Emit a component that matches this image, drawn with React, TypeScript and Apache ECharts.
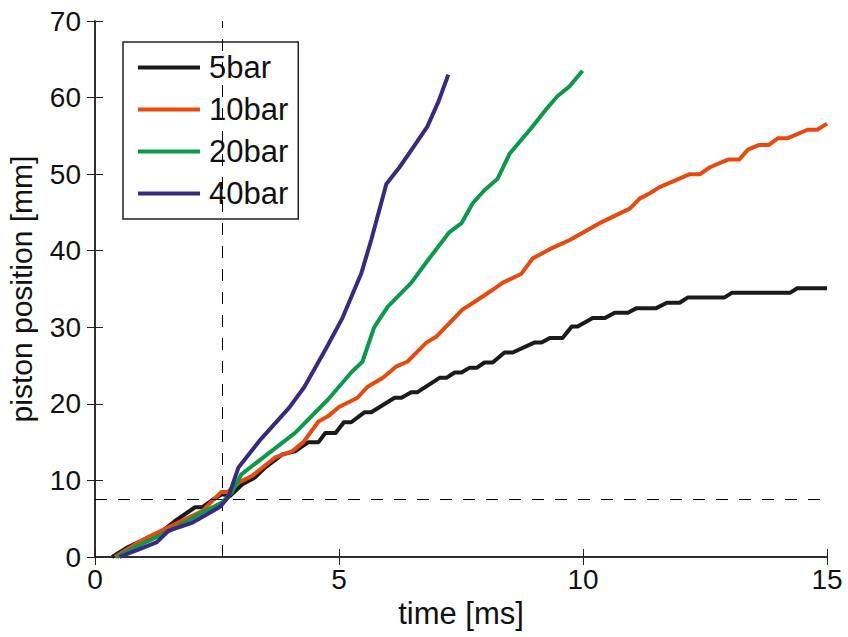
import React, { useEffect, useRef } from "react";
import * as echarts from "echarts";

const seriesNames = ["5bar", "10bar", "20bar", "40bar"];
const seriesColors = ["#1a1a1a", "#E84A0E", "#0B9A4A", "#3A2883"];

const t5 = [0.35, 0.68, 1.38, 1.64, 2.05, 2.2, 2.42, 2.6, 2.77, 3.02, 3.28, 3.49, 3.84, 4.1, 4.37, 4.58, 4.72, 4.93, 5.1, 5.25, 5.52, 5.66, 6.14, 6.28, 6.48, 6.6, 7.06, 7.2, 7.37, 7.51, 7.67, 7.82, 7.98, 8.15, 8.39, 8.56, 8.76, 9.0, 9.15, 9.32, 9.58, 9.77, 9.89, 10.2, 10.45, 10.65, 10.92, 11.1, 11.5, 11.72, 11.98, 12.15, 12.9, 13.05, 14.24, 14.39, 15.0];
const p5 = [0, 1.3, 3.4, 4.7, 6.5, 6.5, 7.5, 8.2, 8.0, 9.5, 10.4, 11.7, 13.4, 13.8, 15.0, 15.0, 16.2, 16.2, 17.6, 17.6, 18.9, 18.9, 20.8, 20.8, 21.5, 21.5, 23.4, 23.4, 24.1, 24.1, 24.7, 24.7, 25.4, 25.4, 26.7, 26.7, 27.3, 28.0, 28.0, 28.6, 28.6, 30.1, 30.1, 31.2, 31.2, 31.9, 31.9, 32.5, 32.5, 33.2, 33.2, 33.9, 33.9, 34.5, 34.5, 35.1, 35.1];

const t10 = [0.41, 0.76, 1.09, 1.64, 2.2, 2.4, 2.59, 2.73, 2.87, 3.22, 3.69, 4.04, 4.27, 4.58, 4.78, 5.0, 5.38, 5.58, 5.9, 6.18, 6.4, 6.79, 7.0, 7.53, 7.82, 8.15, 8.35, 8.74, 8.97, 9.32, 9.73, 10.34, 10.96, 11.16, 11.37, 11.57, 12.19, 12.4, 12.6, 12.97, 13.2, 13.38, 13.6, 13.8, 14.0, 14.2, 14.6, 14.8, 15.0];
const p10 = [0, 1.4, 2.6, 4.3, 6.0, 7.3, 8.5, 8.5, 9.5, 10.6, 13.0, 13.8, 15.0, 17.7, 18.4, 19.6, 20.8, 22.2, 23.4, 24.9, 25.5, 28.0, 28.8, 32.3, 33.5, 34.9, 35.8, 37.0, 39.0, 40.2, 41.4, 43.6, 45.5, 46.8, 47.5, 48.3, 50.0, 50.0, 50.9, 51.9, 51.9, 53.2, 53.8, 53.8, 54.7, 54.7, 55.8, 55.8, 56.6];

const t20 = [0.45, 0.8, 1.29, 1.7, 2.2, 2.6, 2.8, 3.0, 3.49, 4.1, 4.78, 5.25, 5.48, 5.72, 6.0, 6.48, 6.79, 7.26, 7.51, 7.74, 7.98, 8.25, 8.5, 8.95, 9.25, 9.48, 9.73, 9.99];
const p20 = [0, 1.2, 2.7, 4.0, 5.8, 7.1, 8.4, 10.8, 13.2, 16.2, 20.6, 24.1, 25.5, 30.0, 32.7, 35.8, 38.5, 42.4, 43.6, 46.2, 47.9, 49.4, 52.7, 56.1, 58.5, 60.2, 61.5, 63.5];

const t40 = [0.5, 0.9, 1.27, 1.5, 2.0, 2.36, 2.57, 2.73, 2.94, 3.4, 3.98, 4.29, 4.74, 5.07, 5.46, 5.66, 5.97, 6.24, 6.5, 6.81, 7.04, 7.24];
const p40 = [0, 1.0, 1.95, 3.4, 4.5, 5.8, 6.6, 7.8, 11.7, 15.4, 19.5, 22.2, 27.3, 31.2, 37.1, 41.4, 48.7, 50.9, 53.3, 56.2, 59.5, 63.0];

const refTime = 2.6;
const refPosition = 7.5;

const xMin = 0, xMax = 15, xInterval = 5;
const yMin = 0, yMax = 70, yInterval = 10;

const FONT = "'Liberation Sans', Arial, Helvetica, sans-serif";

export default function App() {
  const ref = useRef<HTMLDivElement>(null);
  useEffect(() => {
    if (!ref.current) return;
    const chart = echarts.init(ref.current, undefined, { renderer: "svg" });
    const times = [t5, t10, t20, t40];
    const positions = [p5, p10, p20, p40];
    const axisLineStyle = { color: "#222", width: 1.5 };
    const tick = { show: true, inside: true, length: 8, lineStyle: { color: "#222", width: 1 } };
    const series: any[] = seriesNames.map((name, i) => ({
      name,
      type: "line",
      data: times[i].map((t, j) => [t, positions[i][j]]),
      showSymbol: false,
      symbol: "none",
      lineStyle: { color: seriesColors[i], width: 4, join: "round" },
      itemStyle: { color: seriesColors[i] },
      z: 3 + i,
    }));
    series[0].markLine = {
      silent: true,
      symbol: ["none", "none"],
      label: { show: false },
      lineStyle: { color: "#000", width: 1, type: [12, 11] },
      data: [{ xAxis: refTime }, { yAxis: refPosition }],
    };
    chart.setOption({
      animation: false,
      backgroundColor: "#fff",
      textStyle: { fontFamily: FONT },
      grid: { left: 95, right: 21, top: 21, bottom: 80, show: false, containLabel: false, outerBoundsMode: "none" },
      legend: {
        orient: "vertical",
        left: 123,
        top: 42,
        data: seriesNames,
        icon: "rect",
        itemWidth: 62,
        itemHeight: 4,
        itemGap: 11,
        padding: [10, 10, 10, 15],
        backgroundColor: "#fff",
        borderColor: "#222",
        borderWidth: 1.5,
        borderRadius: 0,
        textStyle: { fontSize: 31, color: "#111", fontFamily: FONT, lineHeight: 30, padding: [0, 0, 0, 4] },
      },
      xAxis: [
        {
          type: "value",
          min: xMin,
          max: xMax,
          interval: xInterval,
          position: "bottom",
          name: "time [ms]",
          nameLocation: "middle",
          nameGap: 37,
          nameTextStyle: { fontSize: 31, color: "#111", fontFamily: FONT },
          axisLine: { show: true, lineStyle: axisLineStyle },
          axisTick: tick,
          axisLabel: { fontSize: 28, color: "#111", margin: 8, fontFamily: FONT },
          splitLine: { show: false },
        },
        {
          type: "value",
          min: xMin,
          max: xMax,
          interval: xInterval,
          position: "top",
          axisLine: { show: true, lineStyle: axisLineStyle },
          axisTick: tick,
          axisLabel: { show: false },
          splitLine: { show: false },
        },
      ],
      yAxis: [
        {
          type: "value",
          min: yMin,
          max: yMax,
          interval: yInterval,
          position: "left",
          name: "piston position [mm]",
          nameLocation: "middle",
          nameGap: 59,
          nameRotate: 90,
          nameTextStyle: { fontSize: 30, color: "#111", fontFamily: FONT },
          axisLine: { show: true, lineStyle: axisLineStyle },
          axisTick: tick,
          axisLabel: { fontSize: 28, color: "#111", margin: 14, fontFamily: FONT },
          splitLine: { show: false },
        },
        {
          type: "value",
          min: yMin,
          max: yMax,
          interval: yInterval,
          position: "right",
          axisLine: { show: true, lineStyle: axisLineStyle },
          axisTick: tick,
          axisLabel: { show: false },
          splitLine: { show: false },
        },
      ],
      series,
    });
    return () => chart.dispose();
  }, []);
  return (
    <div
      ref={ref}
      style={{ position: "fixed", left: 0, top: 0, width: 848, height: 637, background: "#fff" }}
    />
  );
}
